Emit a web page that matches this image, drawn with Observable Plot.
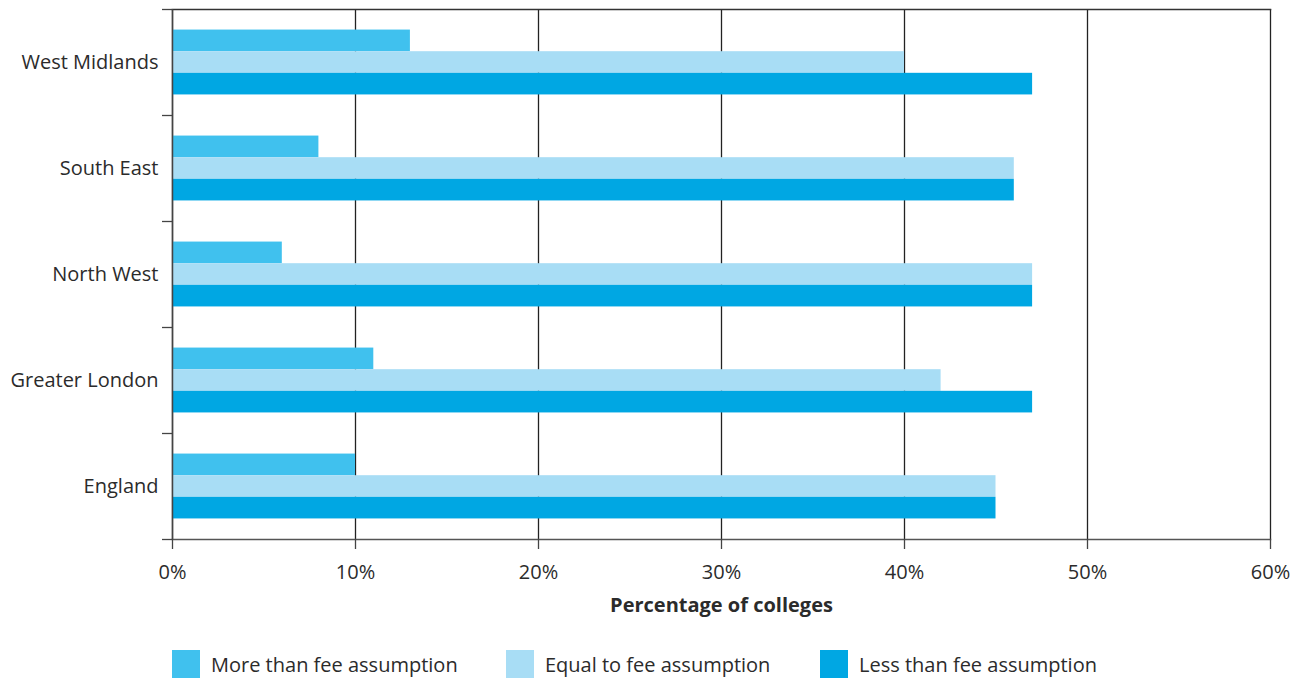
<!DOCTYPE html>
<html>
<head>
<meta charset="utf-8">
<script src="https://cdn.jsdelivr.net/npm/d3@7"></script>
<script src="https://cdn.jsdelivr.net/npm/@observablehq/plot@0.6"></script>
<style>
  body { margin: 0; background: #fff; font-family: "Open Sans", sans-serif; color: #2b2b2b; }
  #legend { font-size: 20px; }
  .item { display: flex; align-items: center; position: absolute; top: 0; }
  .sw { width: 28px; height: 28px; margin-right: 11px; }
</style>
</head>
<body>
<div id="chart"></div>
<div id="legend" style="position:relative;height:30px;margin-top:25px;"></div>
<script>
const regions = ["West Midlands", "South East", "North West", "Greater London", "England"];
const series = ["More than fee assumption", "Equal to fee assumption", "Less than fee assumption"];
const moreThan = [13, 8, 6, 11, 10];
const equalTo = [40, 46, 47, 42, 45];
const lessThan = [47, 46, 47, 47, 45];
const xTicks = [0, 10, 20, 30, 40, 50, 60];
const colors = ["#40c1ee", "#a8ddf5", "#00a7e3"];

const seriesValues = [moreThan, equalTo, lessThan];
const rows = series.map((s, k) => regions.map((r, i) => ({region: r, series: s, value: seriesValues[k][i]})));

const marginTop = 9, plotBottom = 539;
const step = (plotBottom - marginTop) / regions.length;
const pi = 0.796;
const bw = step * (1 - pi);

const plot = Plot.plot({
  width: 1302,
  height: 625,
  marginLeft: 172,
  marginRight: 32,
  marginTop: marginTop,
  marginBottom: 625 - plotBottom,
  style: {fontFamily: "Open Sans, sans-serif", fontSize: "20px", color: "#2b2b2b", background: "#fff"},
  x: {domain: [0, 60], ticks: xTicks},
  y: {domain: regions, paddingInner: pi, paddingOuter: pi / 2, align: 0.5, round: false},
  color: {domain: series, range: colors},
  marks: [
    Plot.gridX(xTicks, {stroke: "#222", strokeOpacity: 1, strokeWidth: 1.3}),
    ...rows.map((data, k) => Plot.barX(data, {
      x: "value", y: "region", fill: "series", dy: (k - 1) * bw
    })),
    Plot.frame({anchor: "top", stroke: "#333", strokeWidth: 1.5}),
    Plot.frame({anchor: "bottom", stroke: "#555", strokeWidth: 1.5}),
    Plot.axisX(xTicks, {tickSize: 10, tickPadding: 15, tickFormat: d => d + "%", label: null, stroke: "#444", strokeWidth: 1.3}),
    Plot.axisY({tickSize: 0, tickPadding: 14, label: null}),
    Plot.axisY({text: null, tickSize: 10, dy: -step / 2, label: null, stroke: "#444", strokeWidth: 1.3}),
    Plot.axisY([regions[regions.length - 1]], {text: null, tickSize: 10, dy: step / 2, label: null, stroke: "#444", strokeWidth: 1.3}),
    Plot.ruleX([0], {stroke: "#444", strokeWidth: 1.5}),
    Plot.text(["Percentage of colleges"], {frameAnchor: "bottom", dy: 72, fontWeight: "bold", fontSize: 20, fill: "#2b2b2b"})
  ]
});
document.getElementById("chart").appendChild(plot);

const legend = document.getElementById("legend");
const lefts = [172, 506, 820];
series.forEach((s, k) => {
  const it = document.createElement("div");
  it.className = "item";
  it.style.left = lefts[k] + "px";
  it.innerHTML = `<div class="sw" style="background:${colors[k]}"></div><span>${s}</span>`;
  legend.appendChild(it);
});
</script>
</body>
</html>
